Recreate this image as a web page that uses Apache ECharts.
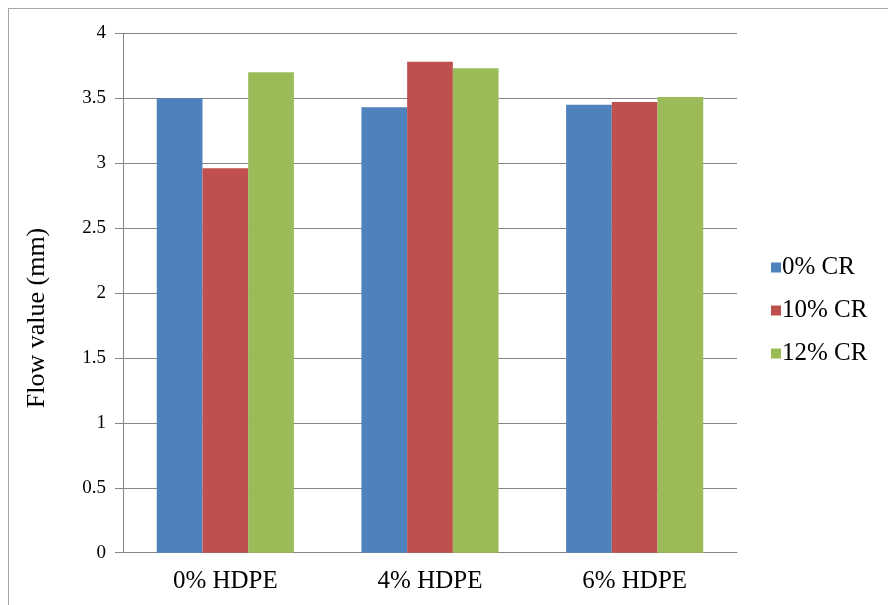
<!DOCTYPE html>
<html>
<head>
<meta charset="utf-8">
<script src="https://cdn.jsdelivr.net/npm/echarts@6/dist/echarts.min.js"></script>
<style>
  html, body { margin: 0; padding: 0; background: #fff; overflow: hidden; }
  #frame { position: absolute; left: 8px; top: 8px; width: 900px; height: 620px; border: 1px solid #a6a6a6; box-sizing: border-box; }
  #chart { position: absolute; left: 0; top: 0; width: 888px; height: 605px; }
</style>
</head>
<body>
<div id="frame"></div>
<div id="chart"></div>
<script>
// Flow value by HDPE content, grouped by crumb rubber (CR) percentage
const categories = ['0% HDPE', '4% HDPE', '6% HDPE'];
const seriesNames = ['0% CR', '10% CR', '12% CR'];
const cr0 = [3.50, 3.43, 3.45];
const cr10 = [2.96, 3.78, 3.47];
const cr12 = [3.70, 3.73, 3.51];
const yTicks = [0, 0.5, 1, 1.5, 2, 2.5, 3, 3.5, 4];
const yTitle = 'Flow value (mm)';

const colors = ['#4F81BD', '#C0504D', '#9BBB59'];
const font = '"Liberation Serif", "Times New Roman", serif';
const values = [cr0, cr10, cr12];

const chart = echarts.init(document.getElementById('chart'), null, { renderer: 'canvas' });
chart.setOption({
  animation: false,
  backgroundColor: 'transparent',
  grid: { left: 123, right: 151, top: 33.3, bottom: 52.3, containLabel: false },
  legend: {
    orient: 'vertical',
    left: 771,
    top: 255,
    padding: 0,
    icon: 'rect',
    itemWidth: 10,
    itemHeight: 10,
    itemGap: 18,
    textStyle: { fontFamily: font, fontSize: 25, color: '#000', padding: [0, 0, 0, -4] },
    data: seriesNames
  },
  graphic: [{
    type: 'text',
    x: 37,
    y: 318,
    rotation: Math.PI / 2,
    style: { text: yTitle, font: '26px ' + font, fill: '#000', align: 'center', verticalAlign: 'middle' }
  }],
  xAxis: {
    type: 'category',
    data: categories,
    axisLine: { show: true, lineStyle: { color: '#868686', width: 1 } },
    axisTick: { show: false },
    axisLabel: { margin: 16, fontFamily: font, fontSize: 25, color: '#000' }
  },
  yAxis: {
    type: 'value',
    min: yTicks[0],
    max: yTicks[yTicks.length - 1],
    interval: yTicks[1] - yTicks[0],
    axisLine: { show: true, lineStyle: { color: '#868686', width: 1 } },
    axisTick: { show: true, length: 8, lineStyle: { color: '#868686' } },
    axisLabel: {
      margin: 17,
      fontFamily: font,
      fontSize: 19,
      color: '#000',
      formatter: v => String(v)
    },
    splitLine: { show: true, lineStyle: { color: '#868686', width: 1 } }
  },
  series: seriesNames.map((name, i) => ({
    name,
    type: 'bar',
    data: values[i],
    barGap: '0%',
    barCategoryGap: '33%',
    itemStyle: { color: colors[i] }
  }))
});
</script>
</body>
</html>
